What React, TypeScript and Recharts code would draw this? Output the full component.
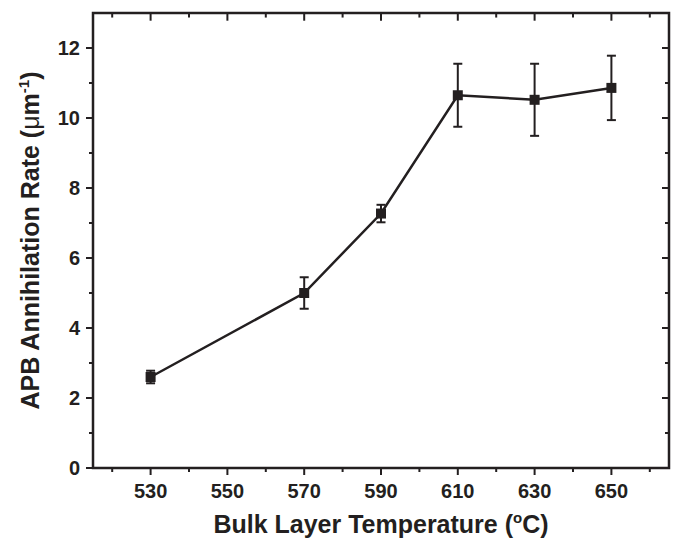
import { ErrorBar, Line, LineChart, ReferenceArea, ReferenceLine, XAxis, YAxis } from "recharts";

const temperatures = [530, 570, 590, 610, 630, 650];
const rates = [2.6, 5.0, 7.27, 10.65, 10.52, 10.86];
const rateErrors = [0.18, 0.45, 0.25, 0.9, 1.03, 0.92];

const xTicks = [520, 530, 540, 550, 560, 570, 580, 590, 600, 610, 620, 630, 640, 650, 660];
const xLabelled = [530, 550, 570, 590, 610, 630, 650];
const yTicks = [0, 1, 2, 3, 4, 5, 6, 7, 8, 9, 10, 11, 12];
const yLabelled = [0, 2, 4, 6, 8, 10, 12];

const data = temperatures.map((t, i) => ({ temp: t, rate: rates[i], err: rateErrors[i] }));

const X_MIN = 515;
const X_MAX = 665;
const Y_MAX = 13;

const INK = "#231f20";
const FONT = "'Liberation Sans', Arial, sans-serif";

function BottomTick({ x, y, payload }: any) {
    const major = xLabelled.includes(payload.value);
    return (
        <g>
            <line x1={x} x2={x} y1={y} y2={y + (major ? 7 : 4)} stroke={INK} strokeWidth={2} />
            {major && (
                <text x={x} y={y + 30} textAnchor="middle" fill={INK} fontSize={20} fontWeight="bold" fontFamily={FONT}>
                    {payload.value}
                </text>
            )}
        </g>
    );
}

function LeftTick({ x, y, payload }: any) {
    const major = yLabelled.includes(payload.value);
    return (
        <g>
            <line x1={x} x2={x - (major ? 7 : 4)} y1={y} y2={y} stroke={INK} strokeWidth={2} />
            {major && (
                <text x={x - 13} y={y + 7} textAnchor="end" fill={INK} fontSize={20} fontWeight="bold" fontFamily={FONT}>
                    {payload.value}
                </text>
            )}
        </g>
    );
}

function RightTick({ x, y, payload }: any) {
    const major = yLabelled.includes(payload.value);
    return <line x1={x} x2={x - (major ? 7 : 4)} y1={y} y2={y} stroke={INK} strokeWidth={2} />;
}

function SquareDot({ cx, cy, index }: any) {
    return <rect key={index} x={cx - 5} y={cy - 5} width={10} height={10} fill={INK} />;
}

function XTitle({ viewBox }: any) {
    const cx = viewBox.x + viewBox.width / 2;
    return (
        <text x={cx} y={viewBox.y + 65} textAnchor="middle" fill={INK} fontSize={25} fontWeight="bold" fontFamily={FONT}>
            Bulk Layer Temperature (
            <tspan dy={-10} fontSize={15}>o</tspan>
            <tspan dy={10}>C)</tspan>
        </text>
    );
}

function YTitle({ viewBox }: any) {
    const cy = viewBox.y + viewBox.height / 2;
    return (
        <text
            x={39}
            y={cy}
            transform={`rotate(-90 39 ${cy})`}
            textAnchor="middle"
            fill={INK}
            fontSize={25}
            fontWeight="bold"
            fontFamily={FONT}
        >
            APB Annihilation Rate (<tspan fontWeight="normal">μ</tspan>m
            <tspan dy={-10} fontSize={15}>-1</tspan>
            <tspan dy={10}>)</tspan>
        </text>
    );
}

export default function App() {
    return (
        <div style={{ position: "absolute", left: 0, top: 0, background: "#fff" }}>
            <LineChart width={677} height={547} data={data} margin={{ top: 13, right: 7, bottom: 0, left: 0 }}>
                <XAxis
                    dataKey="temp"
                    type="number"
                    domain={[X_MIN, X_MAX]}
                    allowDataOverflow
                    ticks={xTicks}
                    interval={0}
                    height={79}
                    tickSize={0}
                    tickMargin={0}
                    tickLine={false}
                    axisLine={false}
                    tick={BottomTick}
                    label={{ content: XTitle }}
                />
                <YAxis
                    type="number"
                    domain={[0, Y_MAX]}
                    allowDataOverflow
                    ticks={yTicks}
                    interval={0}
                    width={93}
                    tickSize={0}
                    tickMargin={0}
                    tickLine={false}
                    axisLine={false}
                    tick={LeftTick}
                    label={{ content: YTitle }}
                />
                <YAxis
                    yAxisId="right"
                    orientation="right"
                    type="number"
                    domain={[0, Y_MAX]}
                    allowDataOverflow
                    ticks={yTicks}
                    interval={0}
                    width={1}
                    tickSize={0}
                    tickMargin={0}
                    tickLine={false}
                    axisLine={false}
                    tick={RightTick}
                />
                <ReferenceArea
                    x1={X_MIN}
                    x2={X_MAX}
                    y1={0}
                    y2={Y_MAX}
                    fill="none"
                    fillOpacity={0}
                    stroke={INK}
                    strokeWidth={2.5}
                    strokeOpacity={1}
                    ifOverflow="visible"
                />
                {/* inward ticks along the top edge of the frame */}
                {xTicks.map((t) => (
                    <ReferenceLine
                        key={t}
                        segment={[
                            { x: t, y: Y_MAX },
                            { x: t, y: Y_MAX - (xLabelled.includes(t) ? 0.22 : 0.13) },
                        ]}
                        stroke={INK}
                        strokeWidth={2}
                        ifOverflow="visible"
                    />
                ))}
                <Line
                    dataKey="rate"
                    type="linear"
                    stroke={INK}
                    strokeWidth={2.5}
                    dot={SquareDot}
                    activeDot={false}
                    isAnimationActive={false}
                >
                    <ErrorBar dataKey="err" direction="y" width={4.5} strokeWidth={2} stroke={INK} />
                </Line>
            </LineChart>
        </div>
    );
}
